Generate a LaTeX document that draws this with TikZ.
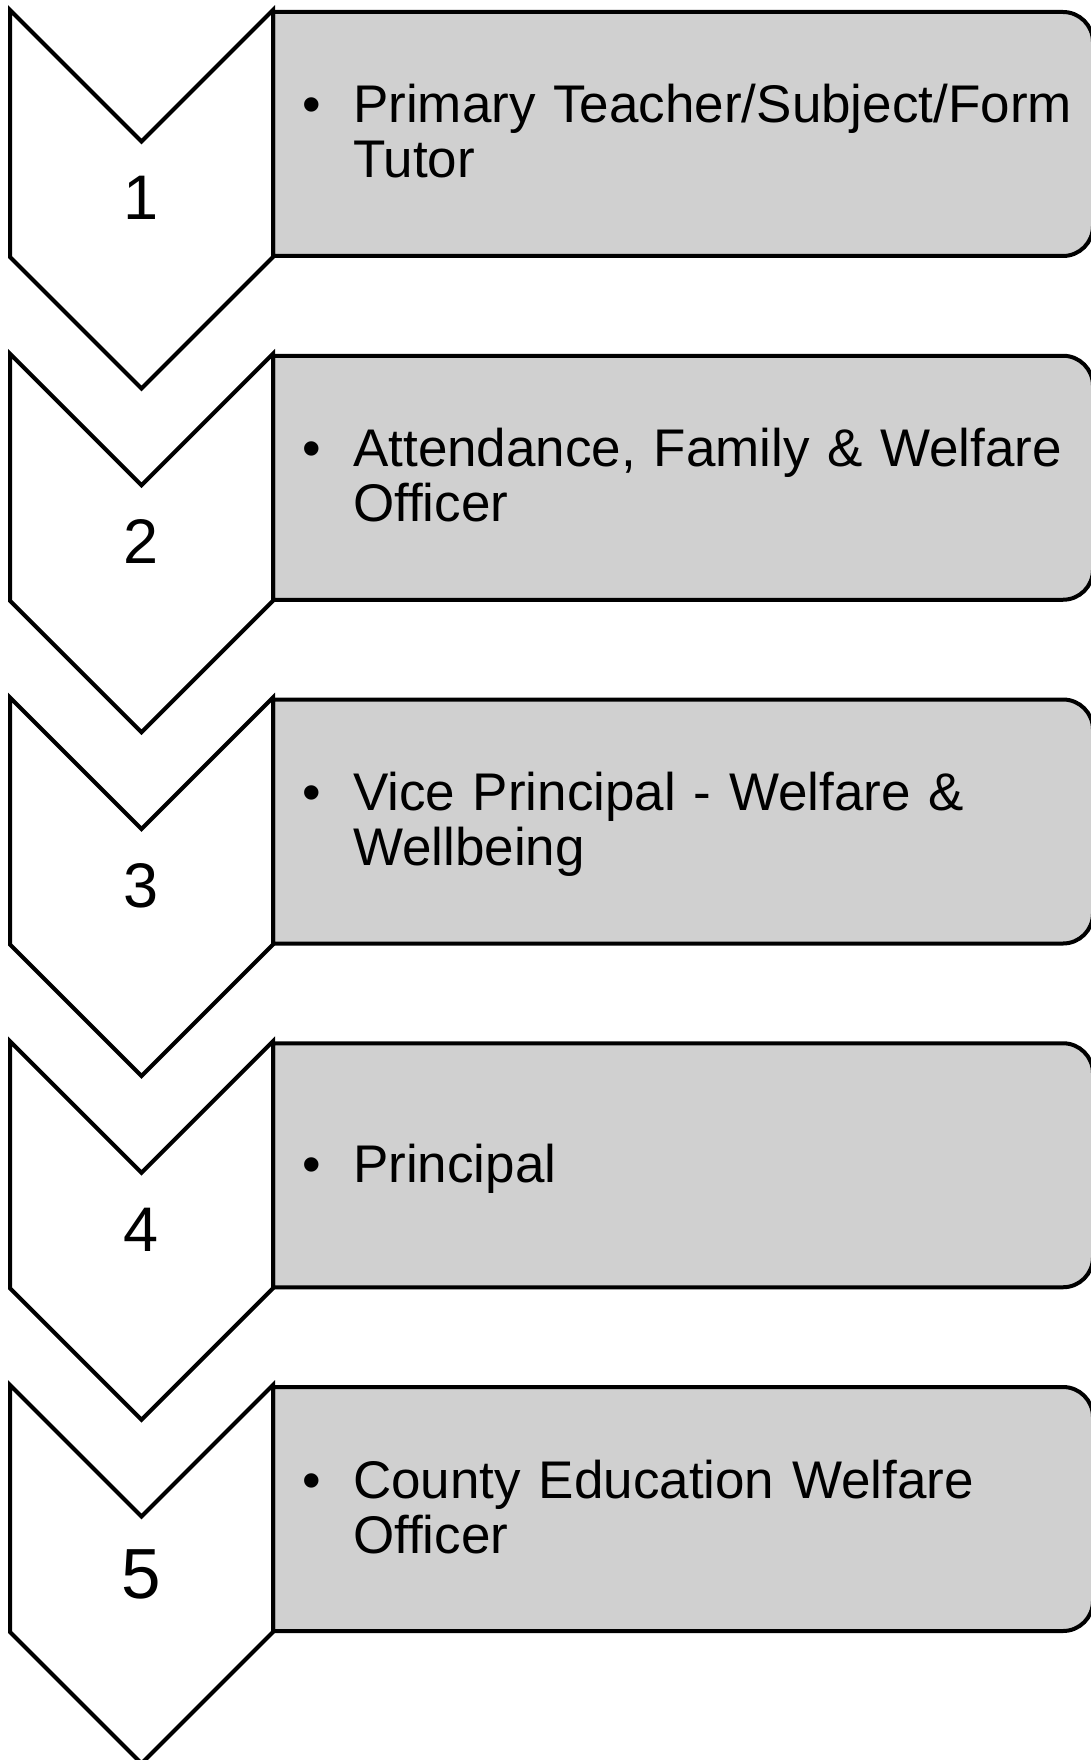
\documentclass[tikz,border=0pt]{standalone}
\usepackage{fontspec}
\setmainfont{Liberation Sans}
\definecolor{boxgray}{RGB}{208,208,208}
\tikzset{
  chevshape/.style={draw=black, fill=white, line width=4pt, line join=miter},
  boxshape/.style={draw=black, fill=boxgray, line width=4pt},
  digit/.style={inner sep=0pt, anchor=base, font=\fontsize{63}{63}\selectfont},
  bigdigit/.style={digit, font=\fontsize{71}{71}\selectfont},
  bulletlabel/.style={inner sep=0pt, anchor=base, font=\fontsize{53}{55}\selectfont},
  itemtext/.style={inner sep=0pt, anchor=base west, text width=735pt, align=left, font=\fontsize{53}{55}\selectfont},
}
\newcommand\mystage[1]{%
  \draw[boxshape] (273,#1-2) -- (1063,#1-2) arc[start angle=90,end angle=0,radius=30] -- (1093,#1-216) arc[start angle=0,end angle=-90,radius=30] -- (273,#1-246) -- cycle;
  \draw[chevshape] (10,#1) -- (141.5,#1-131.5) -- (273,#1) -- (273,#1-247) -- (141.5,#1-378.5) -- (10,#1-247) -- cycle;
}
\begin{document}
\begin{tikzpicture}[x=1pt,y=1pt]
  \fill[white] (0,0) rectangle (1091,-1760);
  \useasboundingbox (0,0) rectangle (1091,-1760);
  \mystage{-10}
  \mystage{-353.75}
  \mystage{-697.5}
  \mystage{-1041.25}
  \mystage{-1385}
  % digits
  \node[digit] (n1) at (141.5,-220) {1};
  \node[digit] (n2) at (141.5,-563.75) {2};
  \node[digit] (n3) at (141.5,-907.5) {3};
  \node[digit] (n4) at (141.5,-1251.25) {4};
  \node[bigdigit] (n5) at (141.5,-1598) {5};
  % bullets
  \node[bulletlabel] (b1) at (312,-123) {•};
  \node[bulletlabel] (b2) at (312,-466.75) {•};
  \node[bulletlabel] (b3) at (312,-810.5) {•};
  \node[bulletlabel] (b4) at (312,-1182.25) {•};
  \node[bulletlabel] (b5) at (312,-1498) {•};
  % texts
  \node[itemtext] (t1) at (353,-123) {Primary Teacher/Subject/Form\\Tutor};
  \node[itemtext] (t2) at (353,-466.75) {Attendance, Family \& Welfare\\Officer};
  \node[itemtext] (t3) at (353,-810.5) {Vice Principal - Welfare \&\\Wellbeing};
  \node[itemtext] (t4) at (353,-1182.25) {Principal};
  \node[itemtext] (t5) at (353,-1498) {County Education Welfare\\Officer};
\end{tikzpicture}
\end{document}
